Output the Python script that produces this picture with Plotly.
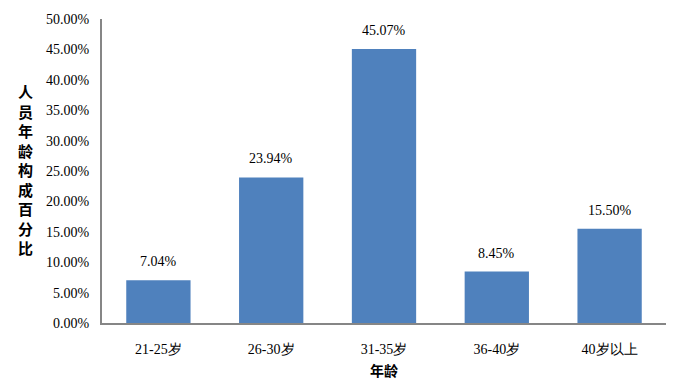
import plotly.graph_objects as go

categories = ["21-25岁", "26-30岁", "31-35岁", "36-40岁", "40岁以上"]
values = [7.04, 23.94, 45.07, 8.45, 15.50]
tick_vals = [0, 5, 10, 15, 20, 25, 30, 35, 40, 45, 50]
tick_text = [f"{v:.2f}%" for v in tick_vals]
y_title = "人员年龄构成百分比"
x_title = "年龄"

serif = "Liberation Serif"
cjk_bold = "Noto Sans CJK SC"

fig = go.Figure()
fig.add_trace(go.Bar(
    x=categories,
    y=values,
    marker=dict(color="#4F81BD", line=dict(width=0)),
    width=0.57,
    cliponaxis=False,
))

plot_w = 683 - 102 - 17
plot_h = 389 - 15 - 64

annotations = [dict(
    text=f"{v:.2f}%", x=c, y=v, xref="x", yref="y",
    showarrow=False, yanchor="bottom", yshift=9,
    font=dict(family=serif, size=14, color="black"),
) for c, v in zip(categories, values)]

annotations.append(dict(
    text="<br>".join(f"<b>{c}</b>" for c in y_title),
    x=(25 - 102) / plot_w, y=(325 - 168) / plot_h,
    xref="paper", yref="paper", xanchor="center", yanchor="middle",
    showarrow=False,
    font=dict(family=cjk_bold, size=15, color="black"),
))

fig.update_layout(
    width=683, height=389,
    margin=dict(l=102, r=17, t=15, b=64),
    plot_bgcolor="white", paper_bgcolor="white",
    showlegend=False,
    xaxis=dict(
        showline=True, linecolor="#868686", linewidth=2,
        showgrid=False, ticks="",
        tickfont=dict(family=serif, size=14, color="black"),
        ticklabelstandoff=12,
        title=dict(text=f"<b>{x_title}</b>", font=dict(family=cjk_bold, size=14, color="black"), standoff=10),
    ),
    yaxis=dict(
        range=[0, 50],
        tickvals=tick_vals, ticktext=tick_text,
        showline=True, linecolor="#868686", linewidth=2,
        showgrid=False, ticks="", zeroline=False,
        tickfont=dict(family=serif, size=14, color="black"),
        ticklabelstandoff=8,
    ),
    annotations=annotations,
)

fig.write_html("out.html")
